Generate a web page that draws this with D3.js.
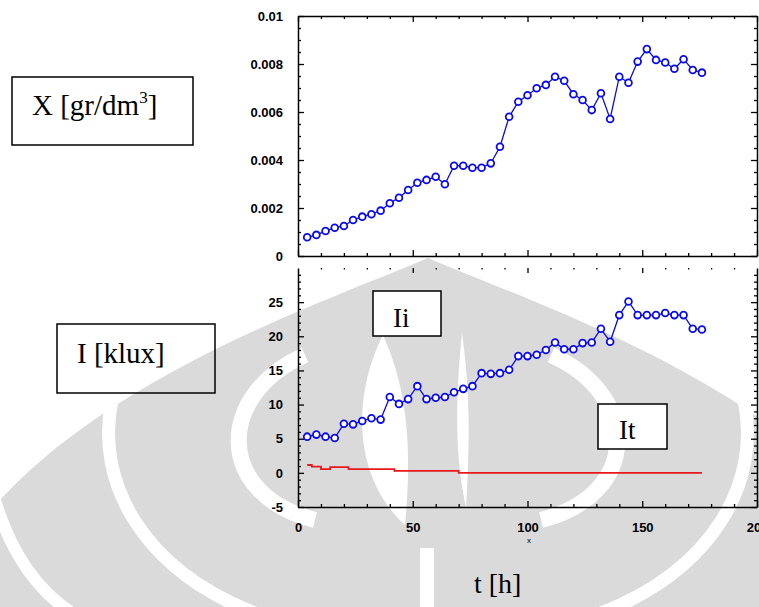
<!DOCTYPE html>
<html>
<head>
<meta charset="utf-8">
<script src="https://cdn.jsdelivr.net/npm/d3@7"></script>
<style>
  body { margin: 0; background: #fff; }
  svg { display: block; }
</style>
</head>
<body>
<div id="chart"></div>
<script>
// sampling times [h]
const tHours = [4, 8, 12, 16, 20, 24, 28, 32, 36, 40, 44, 48, 52, 56, 60, 64, 68, 72, 76, 80, 84, 88,
    92, 96, 100, 104, 108, 112, 116, 120, 124, 128, 132, 136, 140, 144, 148, 152, 156, 160, 164, 168, 172, 176];
// biomass X [gr/dm3]
const xBiomass = [0.00078, 0.00088, 0.00104, 0.00118, 0.00125, 0.0015, 0.00164, 0.00174, 0.00189, 0.0022,
    0.00243, 0.00275, 0.00305, 0.00317, 0.0033, 0.00299, 0.00376, 0.00376, 0.00368, 0.00368, 0.00386, 0.00455,
    0.0058, 0.00643, 0.0067, 0.00699, 0.00713, 0.00747, 0.0073, 0.00674, 0.0065, 0.00608, 0.00678, 0.00571,
    0.00747, 0.00722, 0.0081, 0.00862, 0.00817, 0.00806, 0.0078, 0.0082, 0.00775, 0.00764];
// incident light Ii [klux]
const iIncident = [5.3, 5.6, 5.3, 5.1, 7.2, 7.1, 7.6, 8.0, 7.8, 11.1, 10.1, 10.8, 12.7, 10.8, 11.0, 11.1,
    11.8, 12.3, 12.7, 14.6, 14.5, 14.6, 15.1, 17.1, 17.1, 17.3, 18.0, 19.1, 18.1, 18.1, 19.0, 19.1, 21.1, 19.2,
    23.1, 25.1, 23.1, 23.1, 23.1, 23.4, 23.1, 23.1, 21.1, 21.0];
// transmitted light It [klux]
const iTransmitted = [1.15, 0.9, 0.55, 0.85, 0.85, 0.55, 0.55, 0.55, 0.55, 0.55, 0.3, 0.3, 0.3, 0.3, 0.3,
    0.3, 0.3, 0, 0, 0, 0, 0, 0, 0, 0, 0, 0, 0, 0, 0, 0, 0, 0, 0, 0, 0, 0, 0, 0, 0, 0, 0, 0, 0];

const xTickValues = [0, 50, 100, 150, 200];
const xTickLabels = ['0', '50', '100', '150', '200'];
const xMinorValues = [10, 20, 30, 40, 60, 70, 80, 90, 110, 120, 130, 140, 160, 170, 180, 190];
const yTopTickValues = [0, 0.002, 0.004, 0.006, 0.008, 0.01];
const yTopTickLabels = ['0', '0.002', '0.004', '0.006', '0.008', '0.01'];
const yTopMinorValues = [0.0005, 0.001, 0.0015, 0.0025, 0.003, 0.0035, 0.0045, 0.005, 0.0055,
    0.0065, 0.007, 0.0075, 0.0085, 0.009, 0.0095];
const yBotTickValues = [-5, 0, 5, 10, 15, 20, 25];
const yBotTickLabels = ['-5', '0', '5', '10', '15', '20', '25'];
const yBotMinorValues = [-4, -3, -2, -1, 1, 2, 3, 4, 6, 7, 8, 9, 11, 12, 13, 14, 16, 17, 18, 19,
    21, 22, 23, 24, 26, 27, 28, 29];

const width = 759, height = 607;
const svg = d3.select('#chart').append('svg')
    .attr('width', width)
    .attr('height', height);

// faint watermark behind the charts
const wm = svg.append('g').attr('class', 'watermark');
wm.append('path')
    .attr('d', 'M428,258 C330,300 120,370 0,500 L0,607 L856,607 L856,500 C736,370 526,300 428,258 Z')
    .attr('fill', '#dadada');
const wmStrips = [
    ['M112,400 C95,480 140,570 260,615', 13],
    ['M744,400 C761,480 716,570 596,615', 13],
    ['M-5,500 C10,550 35,590 75,615', 12],
    ['M305,355 C215,395 215,495 315,520', 16],
    ['M551,355 C641,395 641,495 541,520', 16]
];
wmStrips.forEach(s => {
    wm.append('path').attr('d', s[0]).attr('fill', 'none')
        .attr('stroke', '#fff').attr('stroke-width', s[1]);
});
wm.append('path')
    .attr('d', 'M383,335 C350,400 355,480 405,525 C412,450 408,390 383,335 Z')
    .attr('fill', '#fff');
wm.append('path')
    .attr('d', 'M462,333 C455,400 455,460 466,507 C470,440 470,390 462,333 Z')
    .attr('fill', '#fff');
wm.append('rect').attr('x', 420).attr('y', 548).attr('width', 14).attr('height', 60).attr('fill', '#fff');

// scales
const x = d3.scaleLinear().domain([0, 200]).range([298, 757]);
const yTop = d3.scaleLinear().domain([0, 0.01]).range([256, 16]);
const yBot = d3.scaleLinear().domain([-5, 30]).range([507, 268]);

const tickFont = '"Liberation Sans", Arial, sans-serif';

function drawAxis(gen, tx, ty, values, size, labels, padding, keepDomain) {
    const g = svg.append('g')
        .attr('transform', `translate(${tx},${ty})`)
        .call(gen.tickValues(values)
            .tickSize(size)
            .tickSizeOuter(0)
            .tickPadding(padding || 3)
            .tickFormat(labels ? (d, i) => labels[i] : ''));
    g.attr('font-family', tickFont)
        .attr('font-size', 13)
        .attr('font-weight', 'bold');
    g.selectAll('line').attr('stroke', '#000').attr('stroke-width', 1.3);
    g.select('.domain').attr('stroke', '#000').attr('stroke-width', 1.5);
    if (!keepDomain) g.select('.domain').remove();
    return g;
}

// top panel frame and ticks
drawAxis(d3.axisBottom(x), 0, 256, xTickValues, -6, null, 3, true);
drawAxis(d3.axisBottom(x), 0, 256, xMinorValues, -3);
drawAxis(d3.axisTop(x), 0, 16, xTickValues, -6, null, 3, true);
drawAxis(d3.axisTop(x), 0, 16, xMinorValues, -3);
drawAxis(d3.axisLeft(yTop), 298, 0, yTopTickValues, -6, yTopTickLabels, 15, true);
drawAxis(d3.axisLeft(yTop), 298, 0, yTopMinorValues, -3);
drawAxis(d3.axisRight(yTop), 757, 0, yTopTickValues, -6, null, 3, true);
drawAxis(d3.axisRight(yTop), 757, 0, yTopMinorValues, -3);

// bottom panel frame and ticks (open on top)
drawAxis(d3.axisBottom(x), 0, 507, xTickValues, -6, xTickLabels, 16, true);
drawAxis(d3.axisBottom(x), 0, 507, xMinorValues, -3);
drawAxis(d3.axisTop(x), 0, 268, xTickValues.slice(1, 4), -5);
drawAxis(d3.axisTop(x), 0, 268, xMinorValues, -1.5);
drawAxis(d3.axisLeft(yBot), 298, 0, yBotTickValues, -6, yBotTickLabels, 15, true);
drawAxis(d3.axisLeft(yBot), 298, 0, yBotMinorValues, -3);
drawAxis(d3.axisRight(yBot), 757, 0, yBotTickValues, -6, null, 3, true);
drawAxis(d3.axisRight(yBot), 757, 0, yBotMinorValues, -3);

// series
const blue = '#0a0aee';
function drawMarkedLine(values, yScale) {
    const pts = tHours.map((t, i) => [x(t), yScale(values[i])]);
    svg.append('path')
        .attr('d', d3.line()(pts))
        .attr('fill', 'none')
        .attr('stroke', blue)
        .attr('stroke-width', 1.3);
    svg.append('g').selectAll('circle')
        .data(pts)
        .enter()
        .append('circle')
        .attr('cx', d => d[0])
        .attr('cy', d => d[1])
        .attr('r', 3.4)
        .attr('fill', '#fff')
        .attr('stroke', blue)
        .attr('stroke-width', 1.8);
}
drawMarkedLine(xBiomass, yTop);
drawMarkedLine(iIncident, yBot);

svg.append('path')
    .attr('d', d3.line().curve(d3.curveStep)(tHours.map((t, i) => [x(t), yBot(iTransmitted[i])])))
    .attr('fill', 'none')
    .attr('stroke', '#e8191b')
    .attr('stroke-width', 1.8);

// labels in boxes
const serif = '"Liberation Serif", "Times New Roman", serif';
function box(x0, y0, x1, y1, fill) {
    svg.append('rect')
        .attr('x', x0).attr('y', y0)
        .attr('width', x1 - x0).attr('height', y1 - y0)
        .attr('fill', fill)
        .attr('stroke', '#000')
        .attr('stroke-width', 1.5);
}
function label(tx, ty, txt, size) {
    return svg.append('text')
        .attr('x', tx).attr('y', ty)
        .attr('font-family', serif)
        .attr('font-size', size)
        .attr('fill', '#000')
        .text(txt);
}

box(12, 77, 193, 145, 'none');
const xl = label(32, 115, 'X [gr/dm', 29);
xl.append('tspan').attr('dy', -12).attr('font-size', 17).text('3');
xl.append('tspan').attr('dy', 12).attr('font-size', 29).text(']');

box(57, 324, 215, 393, 'none');
label(77, 363, 'I [klux]', 29);

box(373, 291, 441, 336, '#fff');
label(393, 327, 'Ii', 27);

box(598, 404, 667, 449, '#fff');
label(619, 439, 'It', 27);

label(474, 593, 't [h]', 28);

svg.append('text')
    .attr('x', 529).attr('y', 543)
    .attr('text-anchor', 'middle')
    .attr('font-family', tickFont)
    .attr('font-size', 8)
    .text('x');
</script>
</body>
</html>
